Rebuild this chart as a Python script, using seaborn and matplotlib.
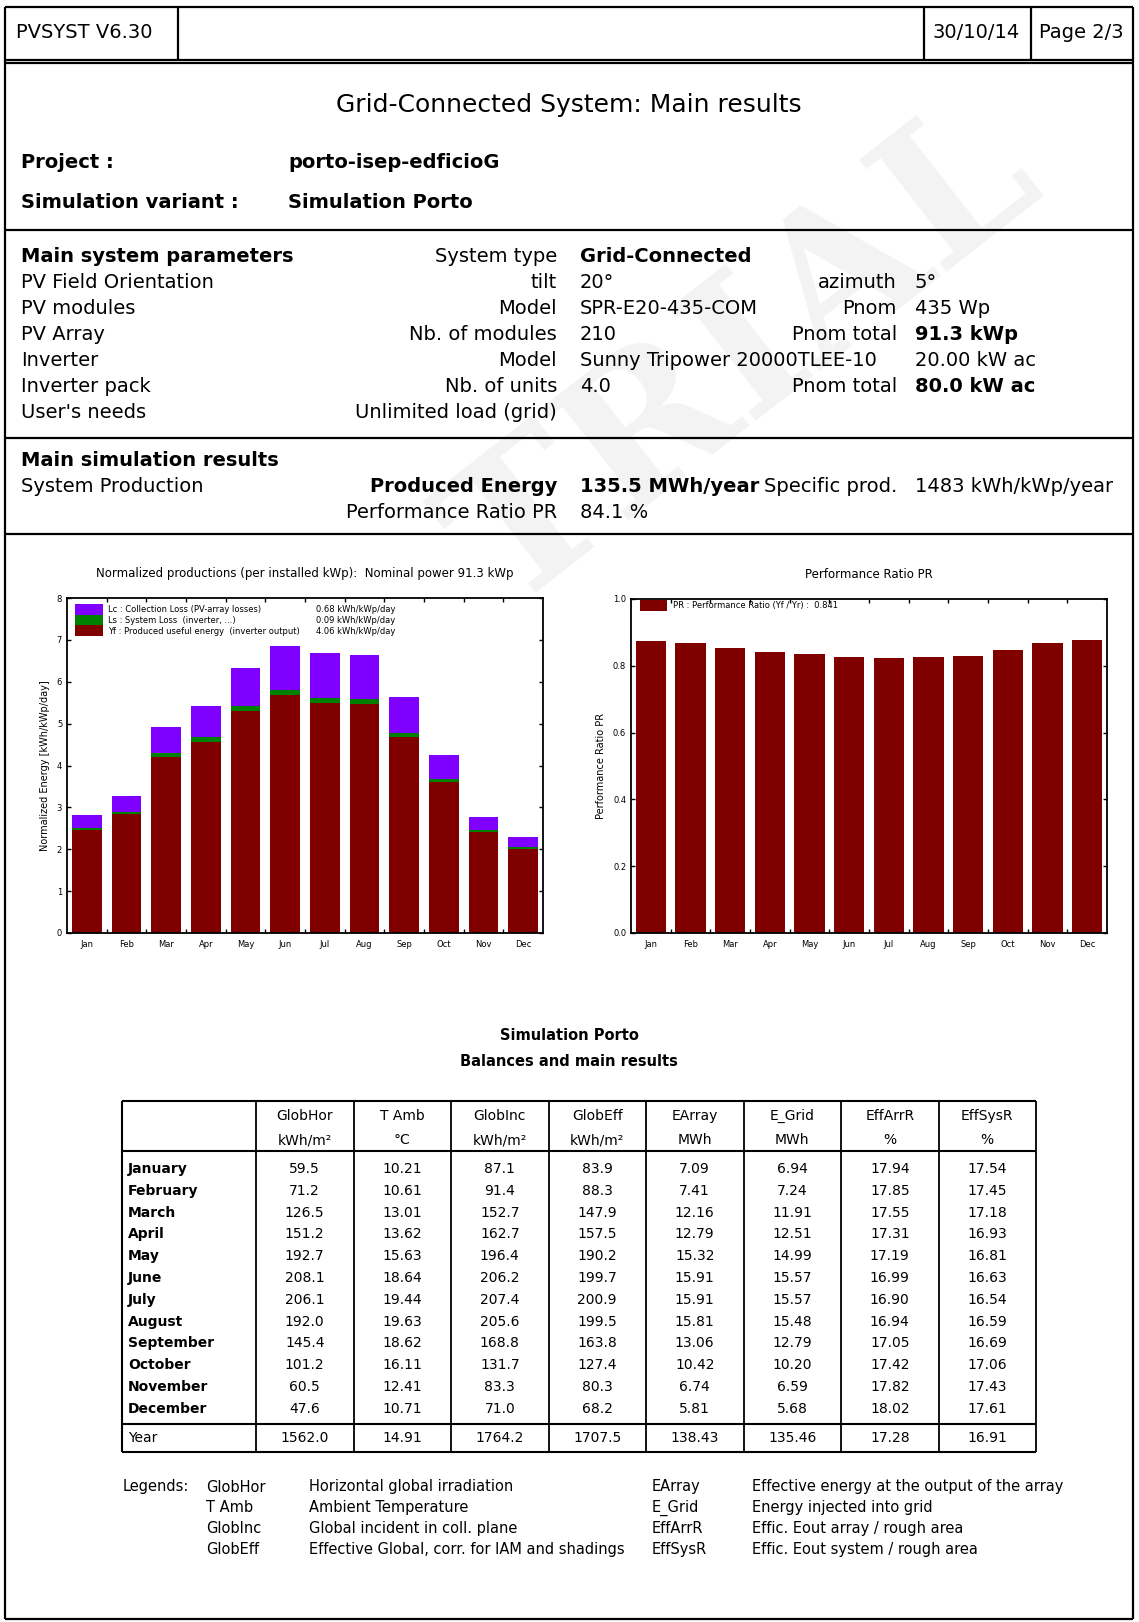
import numpy as np
import matplotlib
matplotlib.use('Agg')
import matplotlib.pyplot as plt
from matplotlib.patches import Patch
import seaborn as sns

# chart data
months = ['Jan', 'Feb', 'Mar', 'Apr', 'May', 'Jun', 'Jul', 'Aug', 'Sep', 'Oct', 'Nov', 'Dec']
yf = [2.45, 2.83, 4.21, 4.57, 5.30, 5.68, 5.50, 5.47, 4.67, 3.60, 2.41, 2.01]   # produced useful energy
ls = [0.05, 0.07, 0.09, 0.10, 0.12, 0.12, 0.12, 0.12, 0.10, 0.08, 0.05, 0.05]   # system loss
lc = [0.31, 0.37, 0.63, 0.75, 0.92, 1.06, 1.07, 1.05, 0.86, 0.57, 0.32, 0.24]   # collection loss
pr = [0.873, 0.868, 0.854, 0.842, 0.836, 0.827, 0.822, 0.825, 0.830, 0.848, 0.867, 0.876]

# balance table
month_names = ['January', 'February', 'March', 'April', 'May', 'June', 'July',
               'August', 'September', 'October', 'November', 'December']
glob_hor = [59.5, 71.2, 126.5, 151.2, 192.7, 208.1, 206.1, 192.0, 145.4, 101.2, 60.5, 47.6]
t_amb = [10.21, 10.61, 13.01, 13.62, 15.63, 18.64, 19.44, 19.63, 18.62, 16.11, 12.41, 10.71]
glob_inc = [87.1, 91.4, 152.7, 162.7, 196.4, 206.2, 207.4, 205.6, 168.8, 131.7, 83.3, 71.0]
glob_eff = [83.9, 88.3, 147.9, 157.5, 190.2, 199.7, 200.9, 199.5, 163.8, 127.4, 80.3, 68.2]
e_array = [7.09, 7.41, 12.16, 12.79, 15.32, 15.91, 15.91, 15.81, 13.06, 10.42, 6.74, 5.81]
e_grid = [6.94, 7.24, 11.91, 12.51, 14.99, 15.57, 15.57, 15.48, 12.79, 10.20, 6.59, 5.68]
eff_arr = [17.94, 17.85, 17.55, 17.31, 17.19, 16.99, 16.90, 16.94, 17.05, 17.42, 17.82, 18.02]
eff_sys = [17.54, 17.45, 17.18, 16.93, 16.81, 16.63, 16.54, 16.59, 16.69, 17.06, 17.43, 17.61]
year_row = [1562.0, 14.91, 1764.2, 1707.5, 138.43, 135.46, 17.28, 16.91]
col_names = ['GlobHor', 'T Amb', 'GlobInc', 'GlobEff', 'EArray', 'E_Grid', 'EffArrR', 'EffSysR']
col_units = ['kWh/m²', '°C', 'kWh/m²', 'kWh/m²', 'MWh', 'MWh', '%', '%']
col_decimals = [1, 2, 1, 1, 2, 2, 2, 2]
columns = [glob_hor, t_amb, glob_inc, glob_eff, e_array, e_grid, eff_arr, eff_sys]

sns.set_style('ticks')
plt.rcParams['font.family'] = ['DejaVu Sans']
plt.rcParams.update({'text.color': 'black', 'axes.labelcolor': 'black',
                     'xtick.color': 'black', 'ytick.color': 'black'})

W, H = 1139, 1622
fig = plt.figure(figsize=(W / 100, H / 100), dpi=100)
fig.patch.set_facecolor('white')

# page background axes in pixel units
bg = fig.add_axes([0, 0, 1, 1], zorder=0)
bg.set_xlim(0, W)
bg.set_ylim(H, 0)
bg.axis('off')

# faint watermark
bg.text(745, 360, 'TRIAL', rotation=38, fontsize=140, color='#f3f3f3',
        family='DejaVu Serif', fontweight='bold', ha='center', va='center', zorder=0)

def hline(y, x0=5, x1=1133, lw=1.6):
    bg.plot([x0, x1], [y, y], color='black', lw=lw, solid_capstyle='butt', zorder=2)

def vline(x, y0, y1, lw=1.6):
    bg.plot([x, x], [y0, y1], color='black', lw=lw, solid_capstyle='butt', zorder=2)

# frames
hline(7); hline(60); hline(63); hline(230); hline(438); hline(534); hline(1619)
vline(5, 7, 1619); vline(1133, 7, 1619)
for x in [178, 924, 1031]:
    vline(x, 7, 60)

fs = 14
def txt(x, y, s, ha='left', bold=False, size=fs, **kw):
    bg.text(x, y, s, ha=ha, va='center', fontsize=size, color='black',
            fontweight='bold' if bold else 'normal', zorder=3, **kw)

txt(16, 33, 'PVSYST V6.30')
txt(932, 33, '30/10/14')
txt(1039, 33, 'Page 2/3')
txt(569, 105, 'Grid-Connected System: Main results', ha='center', size=18)
txt(21, 163, 'Project :', bold=True)
txt(288, 163, 'porto-isep-edficioG', bold=True)
txt(21, 203, 'Simulation variant :', bold=True)
txt(288, 203, 'Simulation Porto', bold=True)

c1, c2, c3, c4 = 21, 557, 580, 897
rows = [
    (257, 'Main system parameters', 'System type', 'Grid-Connected', '', ''),
    (282, 'PV Field Orientation', 'tilt', '20°', 'azimuth', '5°'),
    (308, 'PV modules', 'Model', 'SPR-E20-435-COM', 'Pnom', '435 Wp'),
    (334, 'PV Array', 'Nb. of modules', '210', 'Pnom total', '91.3 kWp'),
    (360, 'Inverter', 'Model', 'Sunny Tripower 20000TLEE-10', '', '20.00 kW ac'),
    (386, 'Inverter pack', 'Nb. of units', '4.0', 'Pnom total', '80.0 kW ac'),
    (413, "User's needs", 'Unlimited load (grid)', '', '', ''),
]
bold_vals = {'Main system parameters', 'Grid-Connected', '91.3 kWp', '80.0 kW ac'}
for y, a, b, c, d, e in rows:
    txt(c1, y, a, bold=a in bold_vals)
    txt(c2, y, b, ha='right')
    txt(c3, y, c, bold=c in bold_vals)
    txt(c4, y, d, ha='right')
    txt(915, y, e, bold=e in bold_vals)

txt(c1, 460, 'Main simulation results', bold=True)
txt(c1, 486, 'System Production')
txt(c2, 486, 'Produced Energy', ha='right', bold=True)
txt(c3, 486, '135.5 MWh/year', bold=True)
txt(c4, 486, 'Specific prod.', ha='right')
txt(915, 486, '1483 kWh/kWp/year')
txt(c2, 512, 'Performance Ratio PR', ha='right')
txt(c3, 512, '84.1 %')

# charts
def px_axes(x0, y0, x1, y1):
    return fig.add_axes([x0 / W, (H - y1) / H, (x1 - x0) / W, (y1 - y0) / H], zorder=2)

red, green, violet = '#800000', '#008000', '#7f00ff'
total = np.array(yf) + np.array(ls) + np.array(lc)
mid = np.array(yf) + np.array(ls)
bar_kw = dict(saturation=1, linewidth=0, edgecolor='none')

ax1 = px_axes(67, 598, 543, 933)
sns.barplot(x=months, y=total, color=violet, width=0.75, ax=ax1, **bar_kw)
sns.barplot(x=months, y=mid, color=green, width=0.75, ax=ax1, **bar_kw)
sns.barplot(x=months, y=yf, color=red, width=0.75, ax=ax1, **bar_kw)
ax1.set_ylim(0, 8)
ax1.set_yticks(range(0, 9))
ax1.set_ylabel('Normalized Energy [kWh/kWp/day]', fontsize=7, labelpad=5)
ax1.set_title('Normalized productions (per installed kWp):  Nominal power 91.3 kWp',
              fontsize=8.5, pad=15)
leg1 = ax1.legend(handles=[Patch(color=violet, lw=0), Patch(color=green, lw=0), Patch(color=red, lw=0)],
                  labels=['Lc : Collection Loss (PV-array losses)',
                          'Ls : System Loss  (inverter, ...)',
                          'Yf : Produced useful energy  (inverter output)'],
                  loc='upper left', bbox_to_anchor=(0.017, 0.982), frameon=False,
                  fontsize=6, handlelength=3.3, handleheight=1.6, labelspacing=0,
                  handletextpad=0.7, borderpad=0, borderaxespad=0)
ax1.add_artist(leg1)
ax1.legend(handles=[Patch(alpha=0)] * 3,
           labels=['0.68 kWh/kWp/day', '0.09 kWh/kWp/day', '4.06 kWh/kWp/day'],
           loc='upper left', bbox_to_anchor=(0.523, 0.982), frameon=False,
           fontsize=6, handlelength=0, handleheight=1.6, labelspacing=0,
           handletextpad=0, borderpad=0, borderaxespad=0)

ax2 = px_axes(631, 599, 1107, 933)
sns.barplot(x=months, y=pr, color=red, width=0.76, ax=ax2, **bar_kw)
ax2.set_ylim(0, 1.0)
ax2.set_yticks(np.arange(0, 1.01, 0.2))
ax2.set_yticklabels([f'{v:.1f}' for v in np.arange(0, 1.01, 0.2)])
ax2.set_ylabel('Performance Ratio PR', fontsize=7, labelpad=5)
ax2.set_title('Performance Ratio PR', fontsize=8.5, pad=15)
ax2.legend(handles=[Patch(color=red, lw=0)],
           labels=['PR : Performance Ratio (Yf / Yr) :  0.841'],
           loc='upper left', bbox_to_anchor=(0.019, 0.997), frameon=False,
           fontsize=6, handlelength=3.2, handleheight=1.6,
           handletextpad=0.7, borderpad=0, borderaxespad=0)

for ax in (ax1, ax2):
    ax.set_xlim(-0.5, 11.5)
    ax.set_xlabel('')
    ax.set_xticks(range(12))
    ax.set_xticklabels(months)
    ax.set_xticks(np.arange(0.5, 11.5, 1), minor=True)
    ax.tick_params(axis='x', which='major', length=0, labelsize=6, pad=5)
    ax.tick_params(axis='x', which='minor', length=3, direction='in', top=True, bottom=True, width=1)
    ax.tick_params(axis='y', which='major', length=3, direction='in', left=True, right=True,
                   labelsize=6, width=1)
    for sp in ax.spines.values():
        sp.set_visible(True)
        sp.set_linewidth(1.3)
        sp.set_color('black')

# balances table
txt(569, 1035, 'Simulation Porto', ha='center', bold=True, size=10.5)
txt(569, 1062, 'Balances and main results', ha='center', bold=True, size=10.5)

tl, tc0, cw = 122, 256, 97.5
tr = tc0 + cw * 8
t_top, t_head, t_dec, t_bot = 1101, 1151, 1424, 1452
row0, row_h = 1169, 21.8
for y in [t_top, t_head, t_dec, t_bot]:
    hline(y, tl, tr, lw=1.5)
vline(tl, t_top, t_bot, lw=1.5)
for k in range(9):
    vline(tc0 + cw * k, t_top, t_bot, lw=1.3)

ts = 10
for k in range(8):
    cx = tc0 + cw * (k + 0.5)
    txt(cx, 1116, col_names[k], ha='center', size=ts)
    txt(cx, 1140, col_units[k], ha='center', size=ts)
    for i in range(12):
        txt(cx, row0 + row_h * i, f'{columns[k][i]:.{col_decimals[k]}f}', ha='center', size=ts)
    txt(cx, 1438, f'{year_row[k]:.{col_decimals[k]}f}', ha='center', size=ts)
for i, m in enumerate(month_names):
    txt(tl + 6, row0 + row_h * i, m, bold=True, size=ts)
txt(tl + 6, 1438, 'Year', size=ts)

# legend of table abbreviations
leg_rows = [
    ('GlobHor', 'Horizontal global irradiation', 'EArray', 'Effective energy at the output of the array'),
    ('T Amb', 'Ambient Temperature', 'E_Grid', 'Energy injected into grid'),
    ('GlobInc', 'Global incident in coll. plane', 'EffArrR', 'Effic. Eout array / rough area'),
    ('GlobEff', 'Effective Global, corr. for IAM and shadings', 'EffSysR', 'Effic. Eout system / rough area'),
]
ls_size = 10.5
txt(123, 1487, 'Legends:', size=ls_size)
for i, (a, b, c, d) in enumerate(leg_rows):
    y = 1487 + 20.7 * i
    txt(206, y, a, size=ls_size)
    txt(309, y, b, size=ls_size)
    txt(652, y, c, size=ls_size)
    txt(752, y, d, size=ls_size)

fig.savefig('out.png', dpi=100, facecolor='white')
